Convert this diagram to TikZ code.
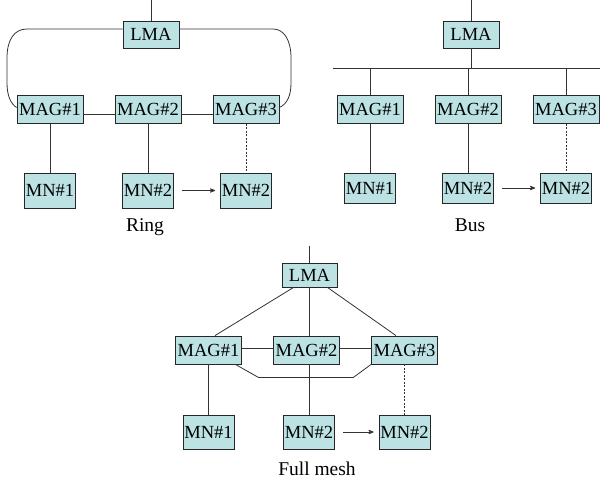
\documentclass[tikz,border=0pt]{standalone}
\usepackage{fontspec}
\setmainfont{Liberation Serif}
\usepackage{tikz}
\usetikzlibrary{arrows}

\definecolor{boxfill}{RGB}{188,226,228}

\tikzset{
  ent/.style={draw=black!85, fill=boxfill, line width=0.8pt, inner sep=0pt,
    font=\fontsize{18.5}{21}\selectfont},
  lma/.style={ent, minimum width=56pt, minimum height=27pt},
  mag/.style={ent, minimum width=66pt, minimum height=28pt},
  mn/.style={ent, minimum width=51pt, minimum height=35pt},
  link/.style={draw=black!80, line width=0.8pt},
  move/.style={link, ->, shorten <=8pt, shorten >=5pt},
  caption/.style={font=\fontsize{19.5}{22}\selectfont, text height=13pt, text depth=4pt},
}

\begin{document}
\begin{tikzpicture}[x=1pt,y=-1pt,>=stealth',node distance=98pt]
    \useasboundingbox (0,0) rectangle (600,489);

    % ring
    \node[lma] (rLMA) at (151,34.5) {LMA};
    \node[mag] (rMAG1) at (50,109.5) {MAG\#1};
    \node[mag] (rMAG2) [right of=rMAG1] {MAG\#2};
    \node[mag] (rMAG3) [right of=rMAG2] {MAG\#3};
    \node[mn] (rMN1) [node distance=81pt, below of=rMAG1] {MN\#1};
    \node[mn] (rMN2) [node distance=81pt, below of=rMAG2] {MN\#2};
    \node[mn] (rMN3) [node distance=81pt, below of=rMAG3] {MN\#2};
    \node[caption] (rCap) at (145,227) {Ring};
    \coordinate (rTop) at (151,0);

    \draw[link] (rTop) -- (rLMA);
    \draw[link] ([yshift=5.5pt]rLMA.west) -- (27,29) .. controls (14,29) and (7,40) .. (7,58)
        -- (7,83) .. controls (7,96) and (11,104) .. ([yshift=2pt]rMAG1.west);
    \draw[link] ([yshift=5.5pt]rLMA.east) -- (273,29) .. controls (284,29) and (291,40) .. (291,58)
        -- (291,83) .. controls (291,96) and (287,104) .. ([yshift=2pt]rMAG3.east);
    \draw[link] ([yshift=-5pt]rMAG1.east) -- ([yshift=-5pt]rMAG2.west)
                ([yshift=-5pt]rMAG2.east) -- ([yshift=-5pt]rMAG3.west);
    \draw[link] (rMAG1) -- (rMN1);
    \draw[link] (rMAG2) -- (rMN2);
    \draw[link, dashed, dash pattern=on 2pt off 1.5pt] (rMAG3) -- (rMN3);
    \draw[move] (rMN2) -- (rMN3);

    % bus
    \node[lma] (bLMA) at (471,34.5) {LMA};
    \node[mag] (bMAG1) at (370,109.5) {MAG\#1};
    \node[mag] (bMAG2) [right of=bMAG1] {MAG\#2};
    \node[mag] (bMAG3) [right of=bMAG2] {MAG\#3};
    \node[mn, minimum height=30pt] (bMN1) [node distance=78.5pt, below of=bMAG1] {MN\#1};
    \node[mn, minimum height=30pt] (bMN2) [node distance=78.5pt, below of=bMAG2] {MN\#2};
    \node[mn, minimum height=30pt] (bMN3) [node distance=78.5pt, below of=bMAG3] {MN\#2};
    \node[caption] (bCap) at (470,227) {Bus};
    \coordinate (bTop) at (471,0);
    \coordinate (busL) at (333,68);
    \coordinate (busR) at (600,68);

    \draw[link] (bTop) -- (bLMA);
    \draw[link] (busL) -- (busR);
    \draw[link] (bLMA) -- (bLMA |- busL);
    \draw[link] (bMAG1) -- (bMAG1 |- busL);
    \draw[link] (bMAG2) -- (bMAG2 |- busL);
    \draw[link] (bMAG3) -- (bMAG3 |- busL);
    \draw[link] (bMAG1) -- (bMN1);
    \draw[link] (bMAG2) -- (bMN2);
    \draw[link, dashed, dash pattern=on 2pt off 1.5pt] (bMAG3) -- (bMN3);
    \draw[move] (bMN2) -- (bMN3);

    % full mesh
    \node[lma, minimum width=55pt, minimum height=24pt] (fLMA) at (309.5,275) {LMA};
    \node[mag] (fMAG1) at (208.5,350) {MAG\#1};
    \node[mag] (fMAG2) [right of=fMAG1] {MAG\#2};
    \node[mag] (fMAG3) [right of=fMAG2] {MAG\#3};
    \node[mn, minimum height=34pt] (fMN1) [node distance=82pt, below of=fMAG1] {MN\#1};
    \node[mn, minimum height=34pt] (fMN2) at (309,432) {MN\#2};
    \node[mn, minimum height=34pt] (fMN3) [node distance=82pt, below of=fMAG3] {MN\#2};
    \node[caption] (fCap) at (317,471) {Full mesh};
    \coordinate (fTop) at (309.5,246);

    \draw[link] (fTop) -- (fLMA);
    \draw[link] ([xshift=12pt]fLMA.south west) -- ([xshift=6.5pt]fMAG1.north);
    \draw[link] ([xshift=-10pt]fLMA.south east) -- ([xshift=-8.5pt]fMAG3.north);
    \draw[link] (fLMA) -- (fLMA |- fMAG2.north);
    \draw[link] ([yshift=2pt]fMAG1.east) -- ([yshift=2pt]fMAG2.west)
                ([yshift=2pt]fMAG2.east) -- ([yshift=2pt]fMAG3.west);
    \draw[link] ([xshift=-6.5pt]fMAG1.south east) -- ++(23,13) -- ++(95,0) -- (fMAG3.south west);
    \draw[link] (fMAG1) -- (fMN1);
    \draw[link] (fMN2) -- (fMN2 |- fMAG2.south);
    \draw[link, dashed, dash pattern=on 2pt off 1.5pt] (fMAG3) -- (fMN3);
    \draw[move] (fMN2) -- (fMN3);
\end{tikzpicture}
\end{document}
